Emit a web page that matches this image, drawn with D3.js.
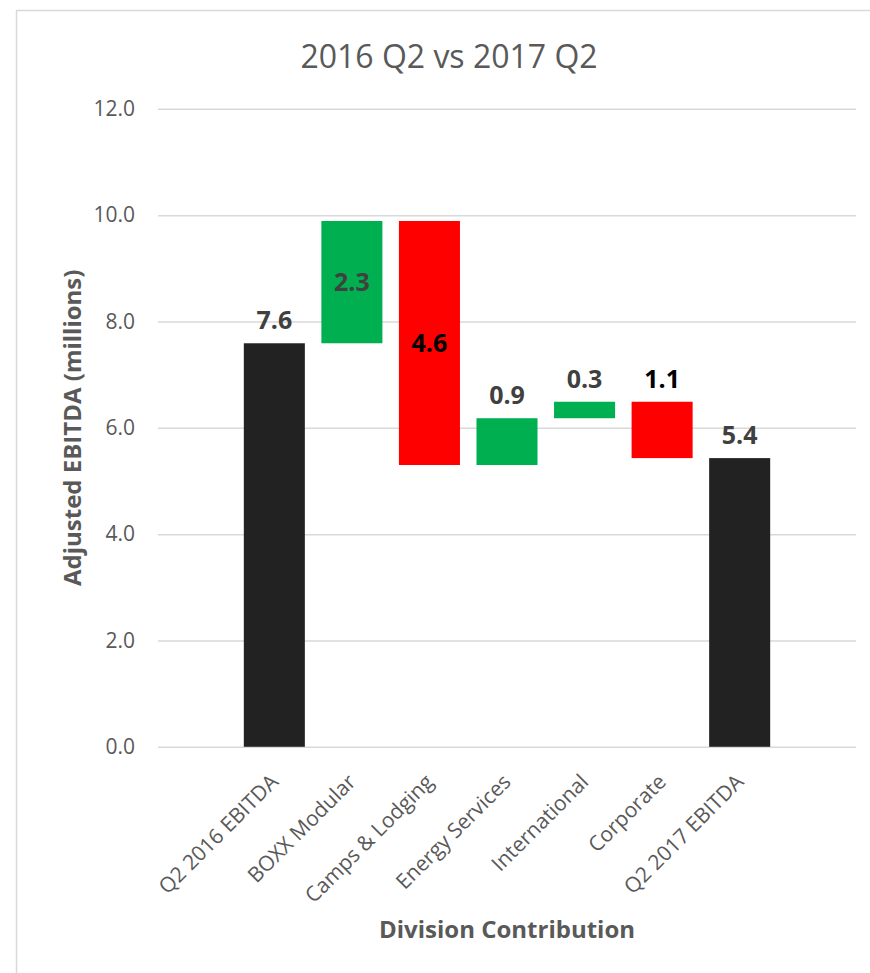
<!DOCTYPE html>
<html>
<head>
<meta charset="utf-8">
<script src="https://cdn.jsdelivr.net/npm/d3@7"></script>
<style>
  html, body { margin: 0; padding: 0; background: #fff; }
  svg { display: block; font-family: 'Open Sans', sans-serif; }
</style>
</head>
<body>
<svg id="chart" width="870" height="973"></svg>
<script>
// Waterfall: 2016 Q2 -> 2017 Q2 adjusted EBITDA by division
const categories = ['Q2 2016 EBITDA', 'BOXX Modular', 'Camps & Lodging', 'Energy Services',
                    'International', 'Corporate', 'Q2 2017 EBITDA'];
const values = [7.59, 2.30, -4.59, 0.88, 0.31, -1.06, 5.43];
const kinds  = ['total', 'delta', 'delta', 'delta', 'delta', 'delta', 'total'];
const yTicks = [0, 2, 4, 6, 8, 10, 12];

const COLOR = { total: '#222222', up: '#00B050', down: '#FF0000' };
const TEXT_GREY = '#595959';

// running base for each bar
let run = 0;
const bars = categories.map((name, i) => {
  const v = values[i];
  let lo, hi;
  if (kinds[i] === 'total') { lo = 0; hi = v; run = v; }
  else { lo = Math.min(run, run + v); hi = Math.max(run, run + v); run += v; }
  return { name, v, lo, hi, kind: kinds[i] };
});

const svg = d3.select('#chart');

// chart frame
svg.append('rect')
  .attr('x', 16.5).attr('y', 10.5).attr('width', 900).attr('height', 1000)
  .attr('fill', '#fff').attr('stroke', '#d9d9d9').attr('stroke-width', 1.5);

const plot = { left: 158, right: 856, top: 108.8, bottom: 746.8 };

const y = d3.scaleLinear().domain([0, 12]).range([plot.bottom, plot.top]);
const x = d3.scaleBand().domain(categories)
  .range([plot.left, plot.right])
  .paddingInner(0.213).paddingOuter(1.1065);

// gridlines + y tick labels
const yAxis = d3.axisLeft(y).tickValues(yTicks).tickFormat(d3.format('.1f'))
  .tickSize(-(plot.right - plot.left)).tickPadding(23);
const gy = svg.append('g').attr('transform', `translate(${plot.left},0)`).call(yAxis);
gy.select('.domain').remove();
gy.selectAll('.tick line').attr('stroke', '#d9d9d9').attr('stroke-width', 1.5);
gy.selectAll('.tick text').attr('fill', TEXT_GREY).attr('font-size', 21)
  .attr('font-family', "'Open Sans', sans-serif");

// bars
svg.append('g').selectAll('rect')
  .data(bars).join('rect')
  .attr('x', d => x(d.name))
  .attr('width', x.bandwidth())
  .attr('y', d => y(d.hi))
  .attr('height', d => y(d.lo) - y(d.hi))
  .attr('fill', d => d.kind === 'total' ? COLOR.total : (d.v >= 0 ? COLOR.up : COLOR.down));

// value labels: big deltas sit inside the bar, the rest above it
svg.append('g').selectAll('text')
  .data(bars).join('text')
  .attr('x', d => x(d.name) + x.bandwidth() / 2)
  .attr('y', d => {
    const inside = d.kind === 'delta' && Math.abs(d.v) >= 2;
    return inside ? (y(d.hi) + y(d.lo)) / 2 + 9 : y(d.hi) - 14;
  })
  .attr('text-anchor', 'middle')
  .attr('font-size', 25).attr('font-weight', 700)
  .attr('fill', d => d.kind === 'delta' && d.v < 0 ? '#000' : '#404040')
  .text(d => d3.format('.1f')(Math.abs(d.v)));

// rotated category labels
svg.append('g').selectAll('text')
  .data(categories).join('text')
  .attr('transform', d => `translate(${x(d) + x.bandwidth() / 2},778) rotate(-45)`)
  .attr('dy', '0.35em')
  .attr('text-anchor', 'end')
  .attr('font-size', 21).attr('fill', TEXT_GREY)
  .text(d => d);

// titles
svg.append('text')
  .attr('x', 449).attr('y', 68).attr('text-anchor', 'middle')
  .attr('font-size', 32).attr('fill', TEXT_GREY)
  .text('2016 Q2 vs 2017 Q2');

svg.append('text')
  .attr('transform', `translate(81,${(plot.top + plot.bottom) / 2}) rotate(-90)`)
  .attr('text-anchor', 'middle')
  .attr('font-size', 24).attr('font-weight', 700).attr('fill', TEXT_GREY)
  .text('Adjusted EBITDA (millions)');

svg.append('text')
  .attr('x', (plot.left + plot.right) / 2).attr('y', 938).attr('text-anchor', 'middle')
  .attr('font-size', 24).attr('font-weight', 700).attr('fill', TEXT_GREY)
  .text('Division Contribution');
</script>
</body>
</html>
